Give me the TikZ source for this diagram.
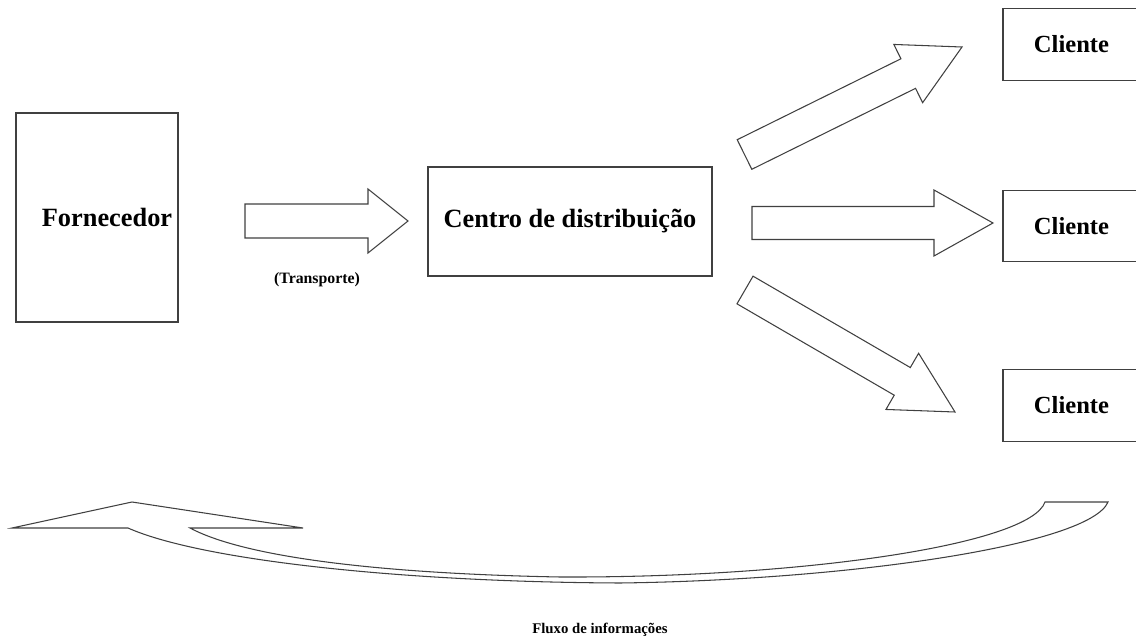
\documentclass[tikz,border=0pt]{standalone}
\usepackage{fontspec}
\setmainfont{Liberation Serif}
\usetikzlibrary{calc}

% block arrow from #1 (tail) to #2 (tip): half shaft, half head, head length
\newcommand{\flowarrow}[5]{%
  \coordinate (fa-h) at ($(#2)!#5!(#1)$);
  \draw[blockarrow] ($(#1)!#3!90:(#2)$) -- ($(fa-h)!#3!-90:(#1)$) -- ($(fa-h)!#4!-90:(#1)$)
    -- (#2) -- ($(fa-h)!#4!90:(#1)$) -- ($(fa-h)!#3!90:(#1)$) -- ($(#1)!#3!-90:(#2)$) -- cycle;}

\begin{document}
\begin{tikzpicture}[
    x=0.02cm, y=-0.02cm,
    box/.style={rectangle, draw=black!75, line width=0.7pt, fill=white, align=center, font=\fontsize{14pt}{16pt}\selectfont\bfseries},
    bigbox/.style={box, font=\fontsize{15pt}{17pt}\selectfont\bfseries},
    clientbox/.style={box, minimum width=2.74cm, minimum height=1.43cm},
    blockarrow/.style={draw=black!75, line width=0.6pt, fill=white, line join=miter},
    smalltext/.style={font=\fontsize{9pt}{11pt}\selectfont\bfseries}
]
\useasboundingbox (0,0) rectangle (1136,638);
\clip (0,0) rectangle (1136,638);

\node (forn) [bigbox, minimum width=3.24cm, minimum height=4.18cm] at (97,217.5) {\hspace*{0.4cm}Fornecedor};
\node (cd) [bigbox, minimum width=5.68cm, minimum height=2.18cm] at (570,221.5) {Centro de distribuição};
\node (cli1) [clientbox] at (1071.5,44.5) {Cliente};
\node (cli2) [clientbox] at (1071.5,226) {Cliente};
\node (cli3) [clientbox] at (1071.5,405.5) {Cliente};

\coordinate (tr-tail) at (245,221);
\coordinate (tr-tip) at (408,221);
\coordinate (c1-tail) at (744.5,154.5);
\coordinate (c1-tip) at (962,47);
\coordinate (c2-tail) at (752,223);
\coordinate (c2-tip) at (993,223);
\coordinate (c3-tail) at (745,290);
\coordinate (c3-tip) at (955,412);

\flowarrow{tr-tail}{tr-tip}{0.34cm}{0.64cm}{0.8cm}
\flowarrow{c1-tail}{c1-tip}{0.33cm}{0.65cm}{1.2cm}
\flowarrow{c2-tail}{c2-tip}{0.33cm}{0.66cm}{1.18cm}
\flowarrow{c3-tail}{c3-tip}{0.32cm}{0.65cm}{1.22cm}

\node (transp) [smalltext] at (317,280) {(Transporte)};

% information flow back to the supplier
\draw[blockarrow] (12,528) -- (132,502) -- (303,528) -- (190,528)
  .. controls (250,560) and (400,574) .. (560,577)
  .. controls (800,578) and (1030,545) .. (1045,502)
  -- (1108,502)
  .. controls (1090,545) and (850,580) .. (620,583)
  .. controls (400,582) and (200,560) .. (128,528) -- cycle;

\node (info) [font=\fontsize{8.4pt}{10pt}\selectfont\bfseries] at (600,630) {Fluxo de informações};

\end{tikzpicture}
\end{document}
